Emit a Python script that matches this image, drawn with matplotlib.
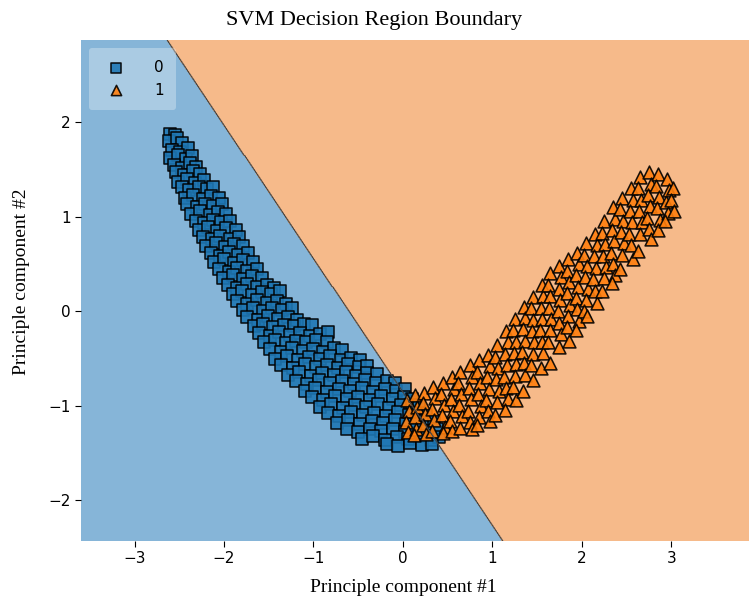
import numpy as np
import matplotlib.pyplot as plt

# PCA-projected points, class 0 (squares)
pc1_class0 = [
    -2.60, -2.55,
    -2.62, -2.53, -2.47,
    -2.58, -2.49, -2.40,
    -2.60, -2.52, -2.43, -2.36,
    -2.56, -2.47, -2.38, -2.31,
    -2.54, -2.45, -2.35, -2.27,
    -2.52, -2.41, -2.33, -2.22,
    -2.47, -2.39, -2.28, -2.19, -2.12,
    -2.44, -2.35, -2.24, -2.15, -2.06,
    -2.41, -2.30, -2.21, -2.12, -2.02,
    -2.37, -2.27, -2.16, -2.07, -1.98,
    -2.31, -2.22, -2.12, -2.03, -1.93,
    -2.28, -2.18, -2.08, -1.98, -1.87,
    -2.24, -2.13, -2.04, -1.93, -1.83,
    -2.20, -2.09, -1.99, -1.89, -1.79,
    -2.15, -2.05, -1.95, -1.84, -1.73,
    -2.11, -2.00, -1.89, -1.79, -1.68,
    -2.06, -1.95, -1.85, -1.74, -1.63,
    -2.01, -1.90, -1.79, -1.69, -1.58,
    -1.96, -1.85, -1.74, -1.63, -1.52, -1.44,
    -1.90, -1.80, -1.69, -1.58, -1.47, -1.37,
    -1.85, -1.74, -1.63, -1.52, -1.41, -1.31,
    -1.79, -1.68, -1.57, -1.46, -1.35, -1.24,
    -1.74, -1.62, -1.51, -1.40, -1.29, -1.18,
    -1.67, -1.56, -1.45, -1.33, -1.22, -1.11, -1.02,
    -1.61, -1.49, -1.38, -1.26, -1.15, -1.04, -0.93, -0.84,
    -1.55, -1.43, -1.31, -1.19, -1.08, -0.97, -0.85,
    -1.49, -1.36, -1.24, -1.12, -1.00, -0.89, -0.77, -0.68,
    -1.43, -1.30, -1.17, -1.05, -0.93, -0.81, -0.69, -0.58, -0.48,
    -1.36, -1.23, -1.10, -0.97, -0.85, -0.73, -0.61, -0.49, -0.40,
    -1.28, -1.16, -1.03, -0.90, -0.77, -0.64, -0.52, -0.40, -0.29,
    -1.19, -1.07, -0.94, -0.81, -0.68, -0.55, -0.42, -0.30, -0.18, -0.09,
    -1.10, -0.98, -0.85, -0.72, -0.59, -0.46, -0.33, -0.20, -0.08, 0.02,
    -1.02, -0.89, -0.76, -0.63, -0.50, -0.37, -0.24, -0.11, 0.01, 0.10,
    -0.93, -0.80, -0.67, -0.54, -0.41, -0.28, -0.15, -0.02, 0.10, 0.18,
    -0.84, -0.71, -0.58, -0.45, -0.32, -0.19, -0.06, 0.07, 0.19, 0.26,
    -0.74, -0.61, -0.48, -0.35, -0.22, -0.09, 0.04, 0.16, 0.28, 0.35,
    -0.63, -0.50, -0.37, -0.24, -0.11, 0.02, 0.15, 0.27, 0.38,
    -0.46, -0.33, -0.20, -0.07, 0.06, 0.19, 0.31, 0.40,
    -0.18, -0.05, 0.08, 0.21, 0.33,
]
pc2_class0 = [
    1.88, 1.86,
    1.80, 1.83, 1.78,
    1.71, 1.68, 1.73,
    1.62, 1.65, 1.61, 1.64,
    1.55, 1.52, 1.57, 1.53,
    1.47, 1.44, 1.48, 1.45,
    1.37, 1.40, 1.36, 1.39,
    1.31, 1.28, 1.32, 1.29, 1.31,
    1.20, 1.23, 1.19, 1.22, 1.20,
    1.13, 1.10, 1.14, 1.11, 1.13,
    1.03, 1.06, 1.02, 1.05, 1.03,
    0.96, 0.93, 0.97, 0.94, 0.95,
    0.86, 0.89, 0.85, 0.88, 0.86,
    0.79, 0.76, 0.80, 0.77, 0.79,
    0.69, 0.72, 0.68, 0.71, 0.69,
    0.62, 0.59, 0.63, 0.60, 0.62,
    0.52, 0.55, 0.51, 0.54, 0.52,
    0.45, 0.42, 0.46, 0.43, 0.45,
    0.35, 0.38, 0.34, 0.37, 0.35,
    0.28, 0.25, 0.29, 0.26, 0.28, 0.25,
    0.18, 0.21, 0.17, 0.20, 0.18, 0.21,
    0.11, 0.08, 0.12, 0.09, 0.11, 0.08,
    0.01, 0.04, 0.00, 0.03, 0.01, 0.04,
    -0.06, -0.09, -0.05, -0.08, -0.06, -0.09,
    -0.16, -0.13, -0.17, -0.14, -0.16, -0.13, -0.15,
    -0.23, -0.26, -0.22, -0.25, -0.23, -0.26, -0.24, -0.22,
    -0.33, -0.30, -0.34, -0.31, -0.33, -0.30, -0.32,
    -0.40, -0.43, -0.39, -0.42, -0.40, -0.43, -0.39, -0.41,
    -0.50, -0.47, -0.51, -0.48, -0.50, -0.47, -0.51, -0.49, -0.52,
    -0.57, -0.60, -0.56, -0.59, -0.57, -0.60, -0.56, -0.59, -0.58,
    -0.67, -0.64, -0.68, -0.65, -0.67, -0.64, -0.68, -0.65, -0.66,
    -0.74, -0.77, -0.73, -0.76, -0.74, -0.77, -0.73, -0.76, -0.74, -0.76,
    -0.84, -0.81, -0.85, -0.82, -0.84, -0.81, -0.85, -0.82, -0.84, -0.82,
    -0.91, -0.94, -0.90, -0.93, -0.91, -0.94, -0.90, -0.93, -0.91, -0.93,
    -1.01, -0.98, -1.02, -0.99, -1.01, -0.98, -1.02, -0.99, -1.01, -0.99,
    -1.08, -1.11, -1.07, -1.10, -1.08, -1.11, -1.07, -1.10, -1.08, -1.10,
    -1.18, -1.15, -1.19, -1.16, -1.18, -1.15, -1.19, -1.16, -1.18, -1.16,
    -1.25, -1.28, -1.24, -1.27, -1.25, -1.28, -1.24, -1.27, -1.25,
    -1.35, -1.32, -1.36, -1.33, -1.35, -1.32, -1.36, -1.33,
    -1.40, -1.42, -1.39, -1.41, -1.40,
]

# class 1 (triangles), read column by column
pc1_class1 = [
    0.05, 0.07, 0.04, 0.06,
    0.14, 0.16, 0.13, 0.15, 0.12,
    0.24, 0.22, 0.25, 0.23, 0.26,
    0.34, 0.36, 0.33, 0.35, 0.32,
    0.45, 0.43, 0.46, 0.44, 0.47, 0.45,
    0.55, 0.57, 0.54, 0.56, 0.53, 0.55,
    0.64, 0.62, 0.65, 0.63, 0.66, 0.64,
    0.75, 0.77, 0.74, 0.76, 0.73, 0.75, 0.77,
    0.85, 0.83, 0.86, 0.84, 0.87, 0.85, 0.83,
    0.95, 0.97, 0.94, 0.96, 0.93, 0.95, 0.97,
    1.05, 1.03, 1.06, 1.04, 1.07, 1.05, 1.03,
    1.15, 1.17, 1.14, 1.16, 1.13, 1.15, 1.17, 1.14,
    1.25, 1.23, 1.26, 1.24, 1.27, 1.25, 1.23, 1.26,
    1.35, 1.37, 1.34, 1.36, 1.33, 1.35, 1.37, 1.34,
    1.45, 1.43, 1.46, 1.44, 1.47, 1.45, 1.43, 1.46,
    1.55, 1.57, 1.54, 1.56, 1.53, 1.55, 1.57, 1.54,
    1.64, 1.62, 1.65, 1.63, 1.66, 1.64, 1.62, 1.64,
    1.75, 1.77, 1.74, 1.76, 1.73, 1.75, 1.77, 1.74,
    1.85, 1.83, 1.86, 1.84, 1.87, 1.85, 1.83, 1.86,
    1.95, 1.97, 1.94, 1.96, 1.93, 1.95, 1.97, 1.94,
    2.05, 2.03, 2.06, 2.04, 2.07, 2.05, 2.03, 2.06,
    2.15, 2.17, 2.14, 2.16, 2.13, 2.15, 2.17,
    2.25, 2.23, 2.26, 2.24, 2.27, 2.25, 2.23,
    2.35, 2.37, 2.34, 2.36, 2.33, 2.35, 2.37, 2.34,
    2.45, 2.43, 2.46, 2.44, 2.47, 2.45, 2.43,
    2.55, 2.57, 2.54, 2.56, 2.53, 2.55, 2.57,
    2.65, 2.63, 2.66, 2.64, 2.67, 2.65, 2.63,
    2.75, 2.77, 2.74, 2.76, 2.73, 2.75, 2.77,
    2.85, 2.83, 2.86, 2.84, 2.87, 2.85,
    2.95, 2.97, 2.94, 2.96, 2.93,
    3.02, 3.00, 3.03,
]
pc2_class1 = [
    -0.94, -1.06, -1.17, -1.28,
    -0.89, -1.01, -1.12, -1.24, -1.31,
    -0.86, -0.97, -1.09, -1.20, -1.30,
    -0.80, -0.92, -1.03, -1.15, -1.27,
    -0.76, -0.87, -0.99, -1.10, -1.22, -1.29,
    -0.70, -0.82, -0.93, -1.05, -1.16, -1.27,
    -0.64, -0.76, -0.88, -0.99, -1.11, -1.23,
    -0.57, -0.69, -0.81, -0.93, -1.05, -1.17, -1.24,
    -0.52, -0.64, -0.76, -0.88, -1.00, -1.12, -1.20,
    -0.46, -0.58, -0.70, -0.82, -0.94, -1.06, -1.16,
    -0.36, -0.48, -0.60, -0.72, -0.84, -0.96, -1.10,
    -0.21, -0.33, -0.45, -0.57, -0.69, -0.81, -0.93, -1.04,
    -0.08, -0.20, -0.32, -0.44, -0.56, -0.68, -0.80, -0.94,
    0.05, -0.07, -0.19, -0.31, -0.43, -0.55, -0.67, -0.84,
    0.15, 0.03, -0.09, -0.21, -0.33, -0.45, -0.57, -0.73,
    0.28, 0.16, 0.04, -0.08, -0.20, -0.32, -0.44, -0.60,
    0.40, 0.28, 0.16, 0.04, -0.08, -0.20, -0.32, -0.55,
    0.48, 0.36, 0.24, 0.12, 0.00, -0.12, -0.24, -0.38,
    0.55, 0.43, 0.31, 0.19, 0.07, -0.05, -0.17, -0.31,
    0.62, 0.50, 0.38, 0.26, 0.14, 0.02, -0.10, -0.20,
    0.72, 0.60, 0.48, 0.36, 0.24, 0.12, 0.00, -0.05,
    0.82, 0.70, 0.58, 0.46, 0.34, 0.22, 0.09,
    0.95, 0.83, 0.71, 0.59, 0.47, 0.35, 0.21,
    1.10, 0.98, 0.86, 0.74, 0.62, 0.50, 0.38, 0.30,
    1.20, 1.08, 0.96, 0.84, 0.72, 0.60, 0.45,
    1.30, 1.18, 1.06, 0.94, 0.82, 0.70, 0.55,
    1.42, 1.30, 1.18, 1.06, 0.94, 0.82, 0.64,
    1.47, 1.35, 1.23, 1.11, 0.99, 0.87, 0.76,
    1.45, 1.33, 1.21, 1.09, 0.97, 0.86,
    1.40, 1.28, 1.16, 1.04, 0.95,
    1.30, 1.18, 1.06,
]

# linear SVM: w1*x + w2*y + b > 0 -> class 1
w1, w2, b = 1.41, 1.0, 0.851

class_labels = ['0', '1']
marker_colors = ['#1f77b4', '#ff7f0e']
region_colors = ['#86b5d8', '#f6ba8a']

fig = plt.figure(figsize=(7.49, 6.08), dpi=100)
ax = fig.add_axes([0.1081, 0.1102, 0.8919, 0.824])

x_min, x_max = -3.6, 3.87
y_min, y_max = -2.43, 2.87
xx, yy = np.meshgrid(np.linspace(x_min, x_max, 600), np.linspace(y_min, y_max, 600))
Z = (w1 * xx + w2 * yy + b > 0).astype(int)
ax.contourf(xx, yy, Z, levels=[-0.5, 0.5, 1.5], colors=region_colors)
ax.contour(xx, yy, Z, levels=[0.5], colors='#444444', linewidths=0.8)

ax.scatter(pc1_class0, pc2_class0, s=85, marker='s', c=marker_colors[0],
           edgecolors='black', linewidths=1.15, alpha=0.9, label=class_labels[0])
ax.scatter(pc1_class1, pc2_class1, s=85, marker='^', c=marker_colors[1],
           edgecolors='black', linewidths=1.15, alpha=0.9, label=class_labels[1])

ax.set_xlim(x_min, x_max)
ax.set_ylim(y_min, y_max)
ax.set_xticks([-3, -2, -1, 0, 1, 2, 3])
ax.set_yticks([-2, -1, 0, 1, 2])
ax.tick_params(labelsize=11, length=4)
for s in ax.spines.values():
    s.set_visible(False)

ax.legend(loc='upper left', fontsize=11, framealpha=0.3, edgecolor='none',
          handletextpad=1.5, borderpad=0.8, markerscale=0.8)

serif = ['Liberation Serif', 'DejaVu Serif']
ax.set_title('SVM Decision Region Boundary', family=serif, fontsize=16, pad=11, x=0.439)
ax.set_xlabel('Principle component #1', family=serif, fontsize=14, labelpad=9, x=0.482)
ax.set_ylabel('Principle component #2', family=serif, fontsize=14, labelpad=13, y=0.517)

fig.savefig('out.png', dpi=100)
